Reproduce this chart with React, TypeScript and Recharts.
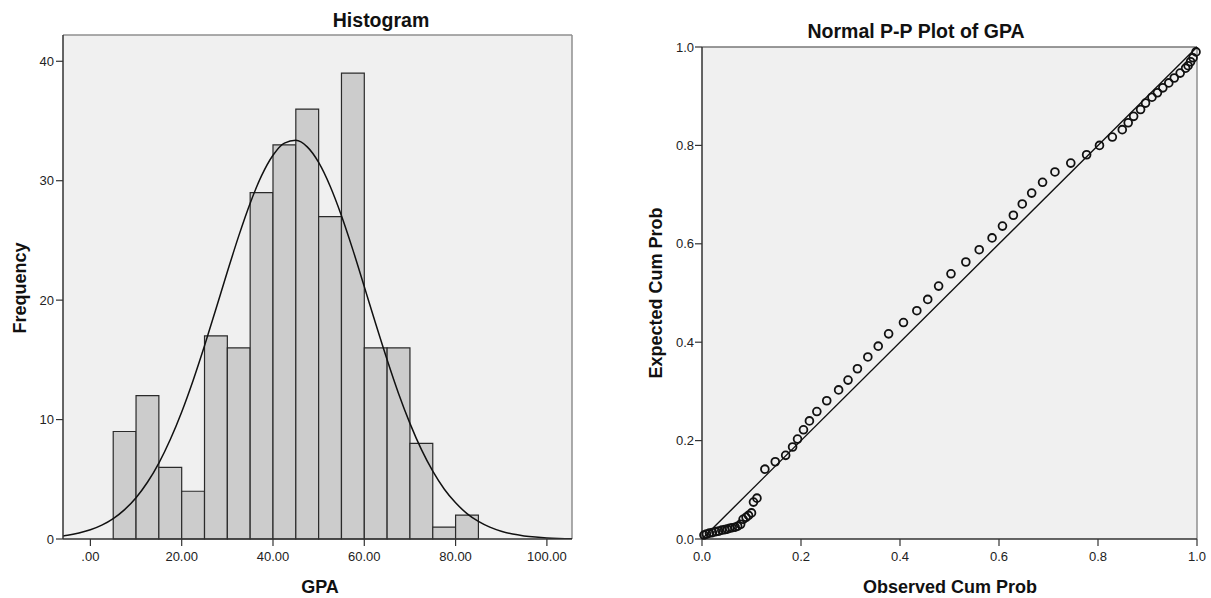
import React from 'react';
import {
  ComposedChart,
  ScatterChart,
  Scatter,
  Line,
  XAxis,
  YAxis,
  CartesianGrid,
  ReferenceArea,
  ReferenceLine,
} from 'recharts';

// ---------- Histogram data ----------
const binStarts = [5, 10, 15, 20, 25, 30, 35, 40, 45, 50, 55, 60, 65, 70, 75, 80];
const binCounts = [9, 12, 6, 4, 17, 16, 29, 33, 36, 27, 39, 16, 16, 8, 1, 2];
const BIN_WIDTH = 5;

// fitted normal curve
const curveX = [-6, -5, -2.5, 0, 2.5, 5, 7.5, 10, 12.5, 15, 17.5, 20, 22.5, 25, 27.5, 30, 32.5, 35, 37.5, 40, 42.5, 45, 47.5, 50, 52.5, 55, 57.5, 60, 62.5, 65, 67.5, 70, 72.5, 75, 77.5, 80, 82.5, 85, 87.5, 90, 92.5, 95, 97.5, 100, 102.5, 105, 105.5];
const curveY = [0.26, 0.31, 0.5, 0.77, 1.16, 1.71, 2.46, 3.46, 4.75, 6.36, 8.33, 10.64, 13.28, 16.18, 19.26, 22.37, 25.38, 28.12, 30.42, 32.13, 33.15, 33.38, 32.83, 31.53, 29.56, 27.07, 24.21, 21.13, 18.02, 15.01, 12.19, 9.68, 7.5, 5.68, 4.19, 3.03, 2.13, 1.47, 0.99, 0.65, 0.41, 0.26, 0.16, 0.09, 0.05, 0.03, 0.03];

const histXDomain = [-6, 105.5];
const histYDomain = [0, 42.2];
const histYTicks = [0, 10, 20, 30, 40];
const histXTicks = [0, 20, 40, 60, 80, 100];
const histXTickLabels = ['.00', '20.00', '40.00', '60.00', '80.00', '100.00'];

// ---------- P-P plot data ----------
const ppObserved = [
  0.004, 0.009, 0.015, 0.021, 0.028, 0.034, 0.040, 0.046, 0.051, 0.056, 0.061, 0.067, 0.072, 0.078, 0.083, 0.089, 0.094, 0.100, 0.104, 0.111,
  0.127, 0.148, 0.169, 0.183, 0.193, 0.205, 0.217, 0.232, 0.252, 0.276, 0.295, 0.314, 0.335, 0.356, 0.377, 0.407, 0.434, 0.456, 0.478, 0.503,
  0.533, 0.560, 0.586, 0.607, 0.629, 0.647, 0.666, 0.688, 0.713, 0.745, 0.777, 0.803, 0.829, 0.849, 0.861, 0.872, 0.886, 0.896, 0.909, 0.920,
  0.931, 0.943, 0.954, 0.966, 0.977, 0.982, 0.987, 0.992, 0.998,
];
const ppExpected = [
  0.008, 0.010, 0.012, 0.013, 0.015, 0.016, 0.018, 0.019, 0.020, 0.022, 0.023, 0.024, 0.026, 0.030, 0.040, 0.044, 0.048, 0.053, 0.075, 0.083,
  0.142, 0.157, 0.170, 0.187, 0.203, 0.222, 0.240, 0.259, 0.281, 0.303, 0.323, 0.346, 0.370, 0.392, 0.417, 0.440, 0.464, 0.487, 0.514, 0.539,
  0.563, 0.588, 0.612, 0.636, 0.658, 0.681, 0.703, 0.725, 0.746, 0.764, 0.781, 0.800, 0.817, 0.832, 0.846, 0.859, 0.873, 0.886, 0.898, 0.907,
  0.917, 0.927, 0.937, 0.947, 0.957, 0.962, 0.970, 0.978, 0.990,
];
const ppTicks = [0, 0.2, 0.4, 0.6, 0.8, 1];
const ppTickLabels = ['0.0', '0.2', '0.4', '0.6', '0.8', '1.0'];

const curveData = curveX.map((x, i) => ({ x, y: curveY[i] }));
const ppData = ppObserved.map((x, i) => ({ x, y: ppExpected[i] }));

const FONT = "'Liberation Sans', Arial, Helvetica, sans-serif";
const tickStyle = { fill: '#222', fontSize: 13, fontFamily: FONT };
const axisLineStyle = { stroke: '#333', strokeWidth: 1.5 };
const tickLineStyle = { stroke: '#333', strokeWidth: 1.2 };
const FRAME = '#8f8f8f';

const Circle = (p: any) => (
  <circle cx={p.cx} cy={p.cy} r={3.9} fill="none" stroke="#111" strokeWidth={1.8} />
);

export default function App() {
  return (
    <div style={{ position: 'absolute', left: 0, top: 0, width: 1211, height: 598, background: '#fff', overflow: 'hidden' }}>
      <div style={{ position: 'absolute', left: 0, top: 0 }}>
        <ComposedChart width={600} height={598} data={curveData} margin={{ top: 35, right: 28, bottom: 29, left: 0 }}>
          <CartesianGrid fill="#f0f0f0" horizontal={false} vertical={false} />
          <XAxis
            type="number"
            dataKey="x"
            domain={histXDomain}
            ticks={histXTicks}
            tickFormatter={(v: number) => histXTickLabels[histXTicks.indexOf(v)]}
            allowDataOverflow
            height={30}
            tick={tickStyle}
            tickLine={tickLineStyle}
            axisLine={axisLineStyle}
            tickSize={7}
            tickMargin={6}
          />
          <YAxis
            type="number"
            domain={histYDomain}
            ticks={histYTicks}
            allowDataOverflow
            width={63}
            tick={tickStyle}
            tickLine={tickLineStyle}
            axisLine={axisLineStyle}
            tickSize={7}
            tickMargin={2}
          />
          {binStarts.map((s, i) => (
            <ReferenceArea
              key={s}
              x1={s}
              x2={s + BIN_WIDTH}
              y1={0}
              y2={binCounts[i]}
              fill="#cccccc"
              fillOpacity={1}
              stroke="#2a2a2a"
              strokeWidth={1.2}
            />
          ))}
          <ReferenceLine y={histYDomain[1]} stroke={FRAME} strokeWidth={1.5} />
          <ReferenceLine x={histXDomain[1]} stroke={FRAME} strokeWidth={1.5} />
          <Line type="monotone" dataKey="y" stroke="#111" strokeWidth={1.5} dot={false} isAnimationActive={false} />
        </ComposedChart>
      </div>

      <div style={{ position: 'absolute', left: 600, top: 0 }}>
        <ScatterChart width={611} height={598} margin={{ top: 47, right: 14, bottom: 29, left: 0 }}>
          <CartesianGrid fill="#f0f0f0" horizontal={false} vertical={false} />
          <XAxis
            type="number"
            dataKey="x"
            domain={[0, 1]}
            ticks={ppTicks}
            tickFormatter={(v: number) => ppTickLabels[ppTicks.indexOf(v)]}
            height={30}
            tick={tickStyle}
            tickLine={tickLineStyle}
            axisLine={axisLineStyle}
            tickSize={7}
            tickMargin={6}
          />
          <YAxis
            type="number"
            dataKey="y"
            domain={[0, 1]}
            ticks={ppTicks}
            tickFormatter={(v: number) => ppTickLabels[ppTicks.indexOf(v)]}
            width={102}
            tick={tickStyle}
            tickLine={tickLineStyle}
            axisLine={axisLineStyle}
            tickSize={7}
            tickMargin={1}
          />
          <ReferenceLine y={1} stroke="#777" strokeWidth={1.5} />
          <ReferenceLine x={1} stroke={FRAME} strokeWidth={1.5} />
          <ReferenceLine segment={[{ x: 0, y: 0 }, { x: 1, y: 1 }]} stroke="#111" strokeWidth={1.4} />
          <Scatter data={ppData} shape={Circle} isAnimationActive={false} />
        </ScatterChart>
      </div>

      <svg width={1211} height={598} style={{ position: 'absolute', left: 0, top: 0, pointerEvents: 'none' }}>
        <g fontFamily={FONT} fontWeight="bold" fill="#111">
          <text x={381} y={27} fontSize={19.5} textAnchor="middle">Histogram</text>
          <text x={320} y={593} fontSize={18} textAnchor="middle">GPA</text>
          <text x={26} y={288} fontSize={18} textAnchor="middle" transform="rotate(-90 26 288)">Frequency</text>
          <text x={916} y={38} fontSize={19.5} textAnchor="middle">Normal P-P Plot of GPA</text>
          <text x={950} y={593} fontSize={18} textAnchor="middle">Observed Cum Prob</text>
          <text x={662} y={293} fontSize={18} textAnchor="middle" transform="rotate(-90 662 293)">Expected Cum Prob</text>
        </g>
      </svg>
    </div>
  );
}
